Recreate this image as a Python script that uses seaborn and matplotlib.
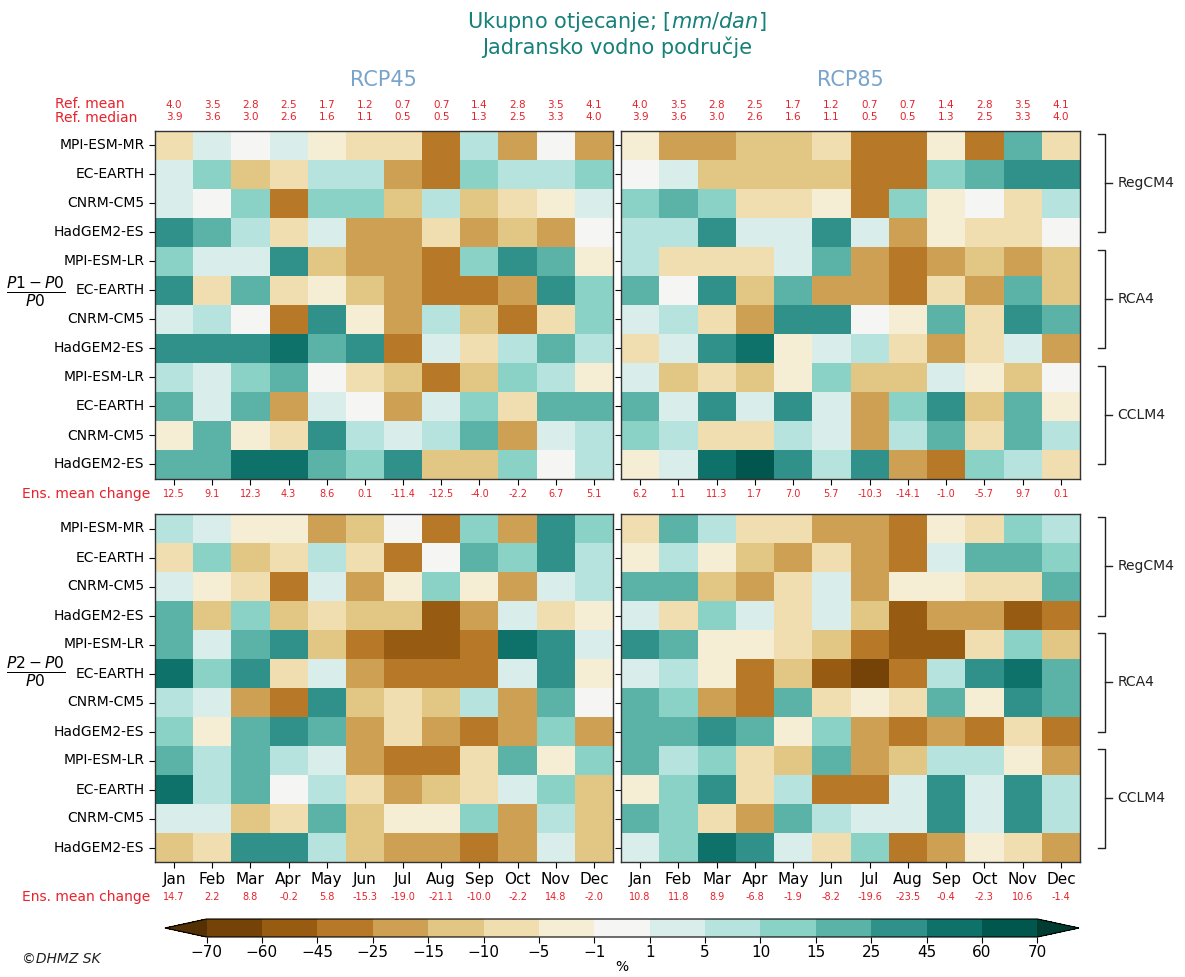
import numpy as np
import pandas as pd
import matplotlib
matplotlib.use("Agg")
import matplotlib.pyplot as plt
import seaborn as sns
from matplotlib.colors import BoundaryNorm
from matplotlib.cm import ScalarMappable
from matplotlib.transforms import blended_transform_factory

W, H = 1185, 977  # output size in px

months = ['Jan', 'Feb', 'Mar', 'Apr', 'May', 'Jun', 'Jul', 'Aug', 'Sep', 'Oct', 'Nov', 'Dec']
models = ['MPI-ESM-MR', 'EC-EARTH', 'CNRM-CM5', 'HadGEM2-ES',
          'MPI-ESM-LR', 'EC-EARTH', 'CNRM-CM5', 'HadGEM2-ES',
          'MPI-ESM-LR', 'EC-EARTH', 'CNRM-CM5', 'HadGEM2-ES']
rcms = ['RegCM4', 'RCA4', 'CCLM4']
levels = [-70, -60, -45, -25, -15, -10, -5, -1, 1, 5, 10, 15, 25, 45, 60, 70]

ref_mean = [4.0, 3.5, 2.8, 2.5, 1.7, 1.2, 0.7, 0.7, 1.4, 2.8, 3.5, 4.1]
ref_median = [3.9, 3.6, 3.0, 2.6, 1.6, 1.1, 0.5, 0.5, 1.3, 2.5, 3.3, 4.0]

# relative change (%) per model (rows) and month (cols)
p1_rcp45 = [
    [-7, 3, 0, 3, -3, -7, -7, -35, 7, -20, 0, -20],
    [3, 12, -12, -7, 7, 7, -20, -35, 12, 7, 7, 12],
    [3, 0, 12, -35, 12, 12, -12, 7, -12, -7, -3, 3],
    [35, 20, 7, -7, 3, -20, -20, -7, -20, -12, -20, 0],
    [12, 3, 3, 35, -12, -20, -20, -35, 12, 35, 20, -3],
    [35, -7, 20, -7, -3, -12, -20, -35, -35, -20, 35, 12],
    [3, 7, 0, -35, 35, -3, -20, 7, -12, -35, -7, 12],
    [35, 35, 35, 52, 20, 35, -35, 3, -7, 7, 20, 7],
    [7, 3, 12, 20, 0, -7, -12, -35, -12, 12, 7, -3],
    [20, 3, 20, -20, 3, 0, -20, 3, 12, -7, 20, 20],
    [-3, 20, -3, -7, 35, 7, 3, 7, 20, -20, 3, 7],
    [20, 20, 52, 52, 20, 12, 35, -12, -12, 12, 0, 7],
]
p1_rcp85 = [
    [-3, -20, -20, -12, -12, -7, -35, -35, -3, -35, 20, -7],
    [0, 3, -12, -12, -12, -12, -35, -35, 12, 20, 35, 35],
    [12, 20, 12, -7, -7, -3, -35, 12, -3, 0, -7, 7],
    [7, 7, 35, 3, 3, 35, 3, -20, -3, -7, -7, 0],
    [7, -7, -7, -7, 3, 20, -20, -35, -20, -12, -20, -12],
    [20, 0, 35, -12, 20, -20, -20, -35, -7, -20, 20, -12],
    [3, 7, -7, -20, 35, 35, 0, -3, 20, -7, 35, 20],
    [-7, 3, 35, 52, -3, 3, 7, -7, -20, -7, 3, -20],
    [3, -12, -7, -12, -3, 12, -12, -12, 3, -3, -12, 0],
    [20, 3, 35, 3, 35, 3, -20, 12, 35, -12, 20, -3],
    [12, 7, -7, -7, 7, 3, -20, 7, 20, -7, 20, 7],
    [-3, 3, 52, 65, 35, 7, 35, -20, -35, 12, 7, -7],
]
p2_rcp45 = [
    [7, 3, -3, -3, -20, -12, 0, -35, 12, -20, 35, 12],
    [-7, 12, -12, -7, 7, -7, -35, 0, 20, 12, 35, 7],
    [3, -3, -7, -35, 3, -20, -3, 12, -3, -20, 3, 7],
    [20, -12, 12, -12, -7, -12, -12, -52, -20, 3, -7, -3],
    [20, 3, 20, 35, -12, -35, -52, -52, -35, 52, 35, 3],
    [52, 12, 35, -7, 3, -20, -35, -35, -35, 3, 35, -3],
    [7, 3, -20, -35, 35, -12, -7, -12, 7, -20, 20, 0],
    [12, -3, 20, 35, 20, -20, -7, -20, -35, -20, 12, -20],
    [20, 7, 20, 7, 3, -20, -35, -35, -7, 20, -3, 12],
    [52, 7, 20, 0, 7, -7, -20, -12, -7, 3, 12, -12],
    [3, 3, -12, -7, 20, -12, -3, -3, 12, -20, 7, -12],
    [-12, -7, 35, 35, 7, -12, -20, -20, -35, -20, 3, -12],
]
p2_rcp85 = [
    [-7, 20, 7, -7, -7, -20, -20, -35, -3, -7, 12, 7],
    [-3, 7, -3, -12, -20, -7, -20, -35, 3, 20, 20, 12],
    [20, 20, -12, -20, -7, 3, -20, -3, -3, -7, -7, 20],
    [3, -7, 12, 3, -7, 3, -12, -52, -20, -20, -52, -35],
    [35, 20, -3, -3, -7, -12, -35, -52, -52, -7, 12, -12],
    [3, 7, -3, -35, -12, -52, -65, -35, 7, 35, 52, 20],
    [20, 12, -20, -35, 20, -7, -3, -7, 20, -3, 35, 20],
    [20, 20, 35, 20, -3, 12, -20, -35, -20, -35, -7, -35],
    [20, 7, 12, -7, -12, 20, -20, -12, 7, 7, -3, -20],
    [-3, 12, 35, -7, 7, -35, -35, 3, 35, 3, 35, 7],
    [20, 12, -7, -20, 20, 7, 3, 3, 35, 3, 35, 7],
    [3, 12, 52, 35, 3, -7, 12, -35, -20, -3, -7, -20],
]

ens_p1_rcp45 = [12.5, 9.1, 12.3, 4.3, 8.6, 0.1, -11.4, -12.5, -4.0, -2.2, 6.7, 5.1]
ens_p1_rcp85 = [6.2, 1.1, 11.3, 1.7, 7.0, 5.7, -10.3, -14.1, -1.0, -5.7, 9.7, 0.1]
ens_p2_rcp45 = [14.7, 2.2, 8.8, -0.2, 5.8, -15.3, -19.0, -21.1, -10.0, -2.2, 14.8, -2.0]
ens_p2_rcp85 = [10.8, 11.8, 8.9, -6.8, -1.9, -8.2, -19.6, -23.5, -0.4, -2.3, 10.6, -1.4]

RED = '#e8212b'
TEAL = '#17807a'
BLUE = '#78a3cb'


def box(x0, y0, x1, y1):
    # pixel box (top-left origin) -> figure fraction rect
    return [x0 / W, 1 - y1 / H, (x1 - x0) / W, (y1 - y0) / H]


def fy(y):
    return 1 - y / H


fig = plt.figure(figsize=(W / 100, H / 100), dpi=100)
cmap = plt.get_cmap('BrBG')
norm = BoundaryNorm(levels, cmap.N, extend='both')

panels = [
    (p1_rcp45, ens_p1_rcp45, (155, 131, 613, 479), True, False),
    (p1_rcp85, ens_p1_rcp85, (621, 131, 1080, 479), False, False),
    (p2_rcp45, ens_p2_rcp45, (155, 514, 613, 862), True, True),
    (p2_rcp85, ens_p2_rcp85, (621, 514, 1080, 862), False, True),
]

for data, ens, pbox, is_left, is_bottom in panels:
    ax = fig.add_axes(box(*pbox))
    df = pd.DataFrame(data, columns=months)
    sns.heatmap(df, ax=ax, cmap=cmap, norm=norm, cbar=False,
                xticklabels=months, yticklabels=models)
    for s in ax.spines.values():
        s.set_visible(True)
        s.set_color('#333333')
        s.set_linewidth(1.0)
    ax.tick_params(axis='y', length=4, labelsize=10, labelleft=is_left, rotation=0)
    ax.tick_params(axis='x', length=4, labelsize=11, labelbottom=is_bottom, rotation=0)
    ax.set_xlabel('')
    ax.set_ylabel('')

    tr = blended_transform_factory(ax.transData, fig.transFigure)
    ens_y = 897 if is_bottom else 494
    for j, v in enumerate(ens):
        ax.text(j + 0.5, fy(ens_y), f'{v:.1f}', transform=tr, ha='center',
                va='center', fontsize=7, color=RED)
    if not is_bottom:
        for j in range(12):
            ax.text(j + 0.5, fy(105), f'{ref_mean[j]:.1f}', transform=tr,
                    ha='center', va='center', fontsize=7.5, color=RED)
            ax.text(j + 0.5, fy(117), f'{ref_median[j]:.1f}', transform=tr,
                    ha='center', va='center', fontsize=7.5, color=RED)

    if not is_left:
        # RCM brackets on the right side
        btr = blended_transform_factory(ax.transAxes, ax.transData)
        for g, name in enumerate(rcms):
            y0, y1 = 4 * g + 0.1, 4 * g + 3.5
            ym = (y0 + y1) / 2
            ax.plot([1.039, 1.054, 1.054, 1.039], [y0, y0, y1, y1], color='#222222',
                    lw=1, transform=btr, clip_on=False)
            ax.plot([1.054, 1.070], [ym, ym], color='#222222', lw=1,
                    transform=btr, clip_on=False)
            ax.text(1.082, ym, name, transform=btr, ha='left', va='center',
                    fontsize=10, color='#222222')

# text around the panels
fig.text(617 / W, fy(34), 'Ukupno otjecanje; [$mm/dan$]\nJadransko vodno područje',
         ha='center', va='center', fontsize=15, color=TEAL, linespacing=1.2)
fig.text(383 / W, fy(80), 'RCP45', ha='center', va='center', fontsize=15, color=BLUE)
fig.text(850 / W, fy(80), 'RCP85', ha='center', va='center', fontsize=15, color=BLUE)
fig.text(55 / W, fy(104), 'Ref. mean', ha='left', va='center', fontsize=10, color=RED)
fig.text(55 / W, fy(118), 'Ref. median', ha='left', va='center', fontsize=10, color=RED)
fig.text(22 / W, fy(494), 'Ens. mean change', ha='left', va='center', fontsize=10, color=RED)
fig.text(22 / W, fy(897), 'Ens. mean change', ha='left', va='center', fontsize=10, color=RED)
fig.text(36 / W, fy(292), r'$\frac{P1-P0}{P0}$', ha='center', va='center', fontsize=16)
fig.text(36 / W, fy(672), r'$\frac{P2-P0}{P0}$', ha='center', va='center', fontsize=16)
fig.text(22 / W, fy(959), '©DHMZ SK', ha='left', va='center', fontsize=10,
         style='italic', color='#222222')

# colorbar (axes includes the extend triangles)
cax = fig.add_axes(box(165, 919, 1079, 937))
sm = ScalarMappable(norm=norm, cmap=cmap)
cb = fig.colorbar(sm, cax=cax, orientation='horizontal', extend='both',
                  extendfrac=0.05, ticks=levels, spacing='uniform')
cb.outline.set_linewidth(0.8)
cb.ax.tick_params(labelsize=11, length=4, pad=2)
cb.set_label('%', fontsize=10, labelpad=0)

fig.savefig('out.png', dpi=100)
